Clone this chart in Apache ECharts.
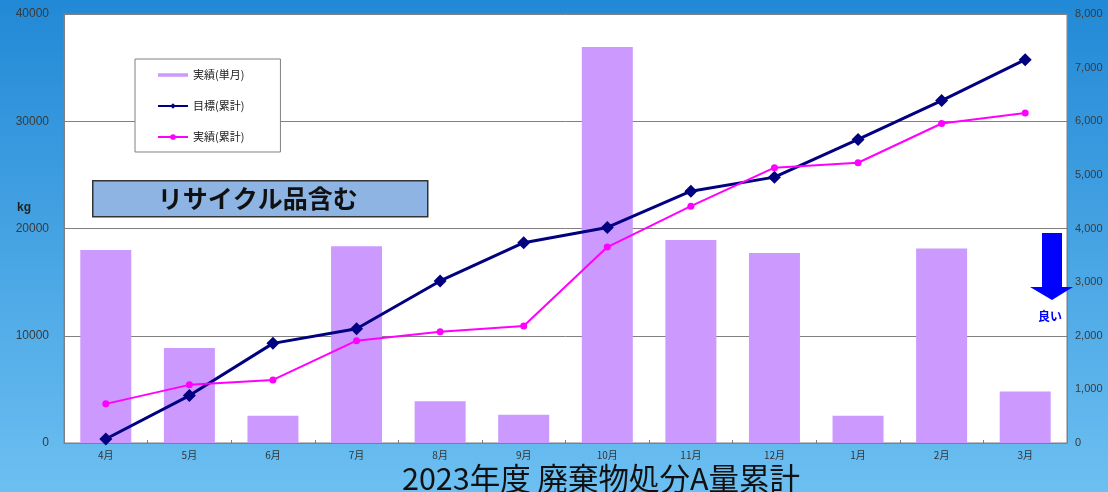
<!DOCTYPE html>
<html>
<head>
<meta charset="utf-8">
<script src="https://cdn.jsdelivr.net/npm/echarts@6/dist/echarts.min.js"></script>
<style>
  html, body { margin: 0; padding: 0; }
  #chart { width: 1108px; height: 492px; }
</style>
</head>
<body>
<div id="chart"></div>
<script>
// Months of fiscal year 2023
const months = ['4月', '5月', '6月', '7月', '8月', '9月', '10月', '11月', '12月', '1月', '2月', '3月'];

// Monthly disposal (kg), right axis
const actualMonthly = [3600, 1772, 508, 3668, 780, 526, 7384, 3784, 3544, 508, 3626, 960];

// Cumulative target (kg), left axis
const targetCumulative = [370, 4420, 9290, 10650, 15110, 18680, 20100, 23480, 24790, 28300, 31930, 35740];

// Cumulative actual (kg), left axis
const actualCumulative = [3650, 5420, 5880, 9540, 10370, 10900, 18270, 22080, 25670, 26130, 29790, 30780];

// Axis tick values
const leftTicks = [0, 10000, 20000, 30000, 40000];
const rightTicks = [0, 1000, 2000, 3000, 4000, 5000, 6000, 7000, 8000];

const FONT = '"Noto Sans CJK JP", "Noto Sans", sans-serif';
const NUM_FONT = '"Liberation Sans", Arial, sans-serif';
const chart = echarts.init(document.getElementById('chart'));

// thin bar swatch for the monthly legend entry (tiny dots pad the bounding box)
const barSwatch = 'path://M0,0L0.05,0L0.05,0.05Z M0,1.2L30,1.2L30,4.8L0,4.8Z M0,5.95L0.05,5.95L0.05,6Z';

chart.setOption({
  backgroundColor: {
    type: 'linear', x: 0, y: 0, x2: 0, y2: 1,
    colorStops: [
      { offset: 0, color: '#2289d6' },
      { offset: 1, color: '#6cbff1' }
    ]
  },
  animation: false,
  title: {
    text: '2023年度 廃棄物処分A量累計',
    left: 402,
    top: 463,
    padding: 0,
    textStyle: { fontFamily: FONT, fontSize: 30.5, fontWeight: 'normal', color: '#111', lineHeight: 30 }
  },
  legend: {
    orient: 'vertical',
    left: 135,
    top: 59,
    backgroundColor: '#ffffff',
    borderColor: '#808080',
    borderWidth: 1,
    padding: [10.5, 36, 9.5, 22],
    itemWidth: 30,
    itemHeight: 7,
    itemGap: 20,
    selectedMode: false,
    textStyle: { fontFamily: FONT, fontSize: 11, color: '#222' },
    data: [
      { name: '実績(単月)', icon: barSwatch },
      { name: '目標(累計)' },
      { name: '実績(累計)' }
    ]
  },
  grid: {
    left: 64, right: 41, top: 14, bottom: 49,
    show: true,
    backgroundColor: '#ffffff',
    borderColor: '#808080',
    borderWidth: 1
  },
  xAxis: {
    type: 'category',
    data: months,
    boundaryGap: true,
    axisLine: { lineStyle: { color: '#808080', width: 1 } },
    axisTick: { show: true, inside: true, length: 3, alignWithLabel: false, lineStyle: { color: '#808080' } },
    axisLabel: { fontFamily: FONT, fontSize: 10, color: '#333', margin: 7 }
  },
  yAxis: [
    {
      type: 'value',
      min: leftTicks[0],
      max: leftTicks[leftTicks.length - 1],
      interval: leftTicks[1] - leftTicks[0],
      axisLine: { show: true, lineStyle: { color: '#808080' } },
      axisTick: { show: false },
      splitLine: { show: true, lineStyle: { color: '#808080', width: 1 } },
      axisLabel: {
        fontFamily: NUM_FONT, fontSize: 12, color: '#3a3a3a', margin: 15,
        formatter: v => String(v)
      }
    },
    {
      type: 'value',
      min: rightTicks[0],
      max: rightTicks[rightTicks.length - 1],
      interval: rightTicks[1] - rightTicks[0],
      axisLine: { show: true, lineStyle: { color: '#808080' } },
      axisTick: { show: false },
      splitLine: { show: false },
      axisLabel: {
        fontFamily: NUM_FONT, fontSize: 11, color: '#3a3a3a', margin: 8,
        formatter: v => v.toLocaleString('en-US')
      }
    }
  ],
  series: [
    {
      name: '実績(単月)',
      type: 'bar',
      yAxisIndex: 1,
      data: actualMonthly,
      barWidth: 51,
      itemStyle: { color: '#cc99ff' },
      z: 1
    },
    {
      name: '目標(累計)',
      type: 'line',
      yAxisIndex: 0,
      data: targetCumulative,
      symbol: 'diamond',
      symbolSize: 13,
      lineStyle: { color: '#000080', width: 3 },
      itemStyle: { color: '#000080' },
      z: 3
    },
    {
      name: '実績(累計)',
      type: 'line',
      yAxisIndex: 0,
      data: actualCumulative,
      symbol: 'circle',
      symbolSize: 7,
      lineStyle: { color: '#ff00ff', width: 2 },
      itemStyle: { color: '#ff00ff' },
      z: 4
    }
  ],
  graphic: [
    {
      type: 'text',
      left: 17, top: 202,
      style: { text: 'kg', font: 'bold 12px "Liberation Sans", Arial, sans-serif', fill: '#222' }
    },
    {
      type: 'group',
      left: 92, top: 180,
      children: [
        {
          type: 'rect',
          shape: { x: 0, y: 0, width: 335, height: 36 },
          style: { fill: '#8db4e2', stroke: '#333333', lineWidth: 1.5 }
        },
        {
          type: 'text',
          x: 165, y: 18,
          style: {
            text: 'リサイクル品含む',
            font: 'bold 25px "Noto Sans CJK JP", sans-serif',
            fill: '#111',
            align: 'center', verticalAlign: 'middle'
          }
        }
      ]
    },
    {
      type: 'polygon',
      shape: {
        points: [[1042, 233], [1062, 233], [1062, 287], [1073, 287], [1052, 300], [1030, 287], [1042, 287]]
      },
      style: { fill: '#0000ff' },
      z: 10
    },
    {
      type: 'text',
      x: 1050, y: 316,
      style: {
        text: '良い',
        font: 'bold 12px "Noto Sans CJK JP", sans-serif',
        fill: '#0000ff',
        align: 'center', verticalAlign: 'middle'
      },
      z: 10
    }
  ]
});
</script>
</body>
</html>
